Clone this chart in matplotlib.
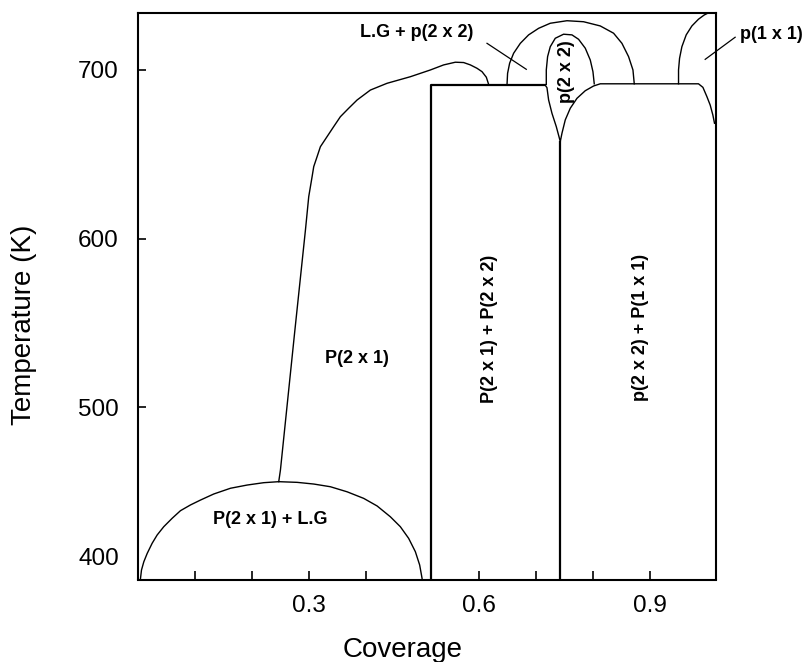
import matplotlib
matplotlib.use("Agg")
import matplotlib.pyplot as plt
from matplotlib.transforms import ScaledTranslation

plt.rcParams['font.family'] = ['Liberation Sans', 'DejaVu Sans']

# Axis ranges
COV_MIN, COV_MAX = 0.0, 1.016
T_MIN, T_MAX = 397.9, 733.6

# P(2x1) + lattice-gas coexistence dome
dome_cov = [0.0039, 0.0056, 0.0097, 0.0157, 0.0244, 0.0332, 0.0448, 0.0596,
            0.0742, 0.0918, 0.1094, 0.1328, 0.1622, 0.1915, 0.2207, 0.2471,
            0.2795, 0.3087, 0.3380, 0.3674, 0.3966, 0.4202, 0.4435, 0.4611,
            0.4757, 0.4875, 0.4951, 0.4993]
dome_temp = [398.6, 403.5, 408.4, 413.4, 419.4, 424.3, 429.2, 434.2,
             438.7, 442.1, 445.0, 448.6, 452.0, 453.9, 455.3, 455.9,
             455.5, 454.5, 452.9, 449.9, 446.0, 441.5, 435.1, 429.2,
             422.3, 414.4, 406.5, 398.6]

# P(2x1) order-disorder boundary
p21_cov = [0.2471, 0.2501, 0.2750, 0.2941, 0.2999, 0.3058, 0.3087, 0.3146,
           0.3204, 0.3322, 0.3438, 0.3556, 0.3702, 0.3850, 0.4084, 0.4377,
           0.4787, 0.5139, 0.5373, 0.5579, 0.5725, 0.5843, 0.5960, 0.6048,
           0.6124, 0.6164]
p21_temp = [455.9, 462.8, 544.0, 605.1, 624.9, 636.7, 642.7, 648.6,
            654.5, 660.5, 666.4, 672.3, 677.3, 682.2, 688.1, 692.1,
            696.0, 700.0, 703.0, 704.6, 704.4, 703.0, 701.0, 699.0,
            695.7, 691.5]

# P(2x1) + P(2x2) two-phase box
box1_cov = [0.515, 0.515, 0.716]
box1_temp = [T_MIN, 691.0, 691.0]

# Lower lobe of the p(2x2) phase and the p(2x2) + P(1x1) box top
lobe_cov = [0.716, 0.7191, 0.7220, 0.7279, 0.7355, 0.7402, 0.7425, 0.7455,
            0.7513, 0.7601, 0.7719, 0.7865, 0.8011, 0.8129, 0.9857, 0.9935,
            1.0005, 1.0063, 1.0110, 1.0139]
lobe_temp = [691.0, 689.5, 682.2, 674.3, 666.4, 660.5, 657.5, 662.5,
             670.4, 677.3, 683.2, 687.7, 690.5, 691.8, 691.8, 689.7,
             684.2, 679.2, 673.3, 668.4]

# Boundary between P(2x1)+P(2x2) and p(2x2)+P(1x1)
div_cov = [0.7425, 0.7425]
div_temp = [T_MIN, 657.5]

# Upper lobe of the p(2x2) phase
p22_cov = [0.7179, 0.7179, 0.7202, 0.7249, 0.7337, 0.7483, 0.7631, 0.7747,
           0.7865, 0.7953, 0.8000, 0.8023]
p22_temp = [691.5, 700.0, 707.9, 713.8, 718.8, 721.2, 720.8, 718.2,
            712.9, 705.9, 699.0, 691.8]

# L.G + p(2x2) arch
arch_cov = [0.6488, 0.6498, 0.6534, 0.6604, 0.6722, 0.6868, 0.7044, 0.7249,
            0.7543, 0.7835, 0.8129, 0.8363, 0.8510, 0.8627, 0.8704, 0.8727]
arch_temp = [691.3, 698.0, 704.0, 709.9, 715.8, 720.8, 724.7, 727.7,
             729.2, 728.6, 726.1, 721.8, 715.8, 707.9, 700.0, 691.8]

# p(1x1) boundary
p11_cov = [0.9506, 0.9506, 0.9524, 0.9565, 0.9641, 0.9741, 0.9857, 0.9958,
           1.0005]
p11_temp = [691.8, 700.0, 706.9, 713.8, 720.8, 726.1, 730.1, 732.6, 733.4]

# Region labels: (text, coverage, temperature, rotation)
labels = [
    ("P(2 x 1) + L.G", 0.2325, 433.2, 0),
    ("P(2 x 1)", 0.385, 529.1, 0),
    ("P(2 x 1) + P(2 x 2)", 0.6177, 546.4, 90),
    ("p(2 x 2) + P(1 x 1)", 0.8829, 547.6, 90),
    ("p(2 x 2)", 0.7543, 699.0, 90),
    ("L.G + p(2 x 2)", 0.4901, 722.5, 0),
]

# Leader lines for the small regions
lg_leader_cov = [0.6136, 0.6827]
lg_leader_temp = [715.8, 700.4]
p11_leader_cov = [1.0502, 0.9975]
p11_leader_temp = [719.4, 706.3]
p11_label = ("p(1 x 1)", 1.1133, 720.8)

fig = plt.figure(figsize=(8.09, 6.62), dpi=100)
ax = fig.add_axes([138.3 / 809, 1 - 579.5 / 662,
                   (715.7 - 138.3) / 809, (579.5 - 13.3) / 662])

thin = dict(color='black', lw=1.0, solid_joinstyle='round')
thick = dict(color='black', lw=1.6)

ax.plot(dome_cov, dome_temp, **thin)
ax.plot(p21_cov, p21_temp, **thin)
ax.plot(box1_cov, box1_temp, **thick)
ax.plot(lobe_cov, lobe_temp, **thin)
ax.plot(div_cov, div_temp, **thick)
ax.plot(p22_cov, p22_temp, **thin)
ax.plot(arch_cov, arch_temp, **thin)
ax.plot(p11_cov, p11_temp, **thin)
ax.plot(lg_leader_cov, lg_leader_temp, color='black', lw=0.9)
ax.plot(p11_leader_cov, p11_leader_temp, color='black', lw=0.9, clip_on=False)

for text, cx, ct, rot in labels:
    ax.text(cx, ct, text, ha='center', va='center', rotation=rot,
            fontsize=13, fontweight='bold')
ax.text(p11_label[1], p11_label[2], p11_label[0], ha='center', va='center',
        fontsize=13, fontweight='bold', clip_on=False)

ax.set_xlim(COV_MIN, COV_MAX)
ax.set_ylim(T_MIN, T_MAX)

ax.set_xticks([0.3, 0.6, 0.9])
ax.set_xticklabels(['0.3', '0.6', '0.9'])
ax.set_xticks([0.1, 0.2, 0.4, 0.7, 0.8], minor=True)
ax.set_yticks([400, 500, 600, 700])
ax.set_yticklabels(['400', '500', '600', '700'])

ax.tick_params(axis='x', which='both', direction='in', length=6.5, width=1.2,
               labelsize=17.5, pad=11, top=False)
ax.tick_params(axis='y', which='both', direction='in', length=6, width=1.2,
               labelsize=17.5, pad=14, right=False)

# The 400 label sits a little above the baseline, with no tick mark
t400 = ax.yaxis.get_major_ticks()[0]
t400.tick1line.set_visible(False)
lab = t400.label1
lab.set_transform(lab.get_transform() + ScaledTranslation(0, 19 / 100, fig.dpi_scale_trans))

for sp in ax.spines.values():
    sp.set_linewidth(1.5)

fig.text(402.5 / 809, 1 - 650 / 662, 'Coverage', ha='center', va='center',
         fontsize=20)
fig.text(24 / 809, 1 - 325 / 662, 'Temperature (K)', ha='center', va='center',
         rotation=90, fontsize=20)

fig.savefig('out.png', dpi=100)
